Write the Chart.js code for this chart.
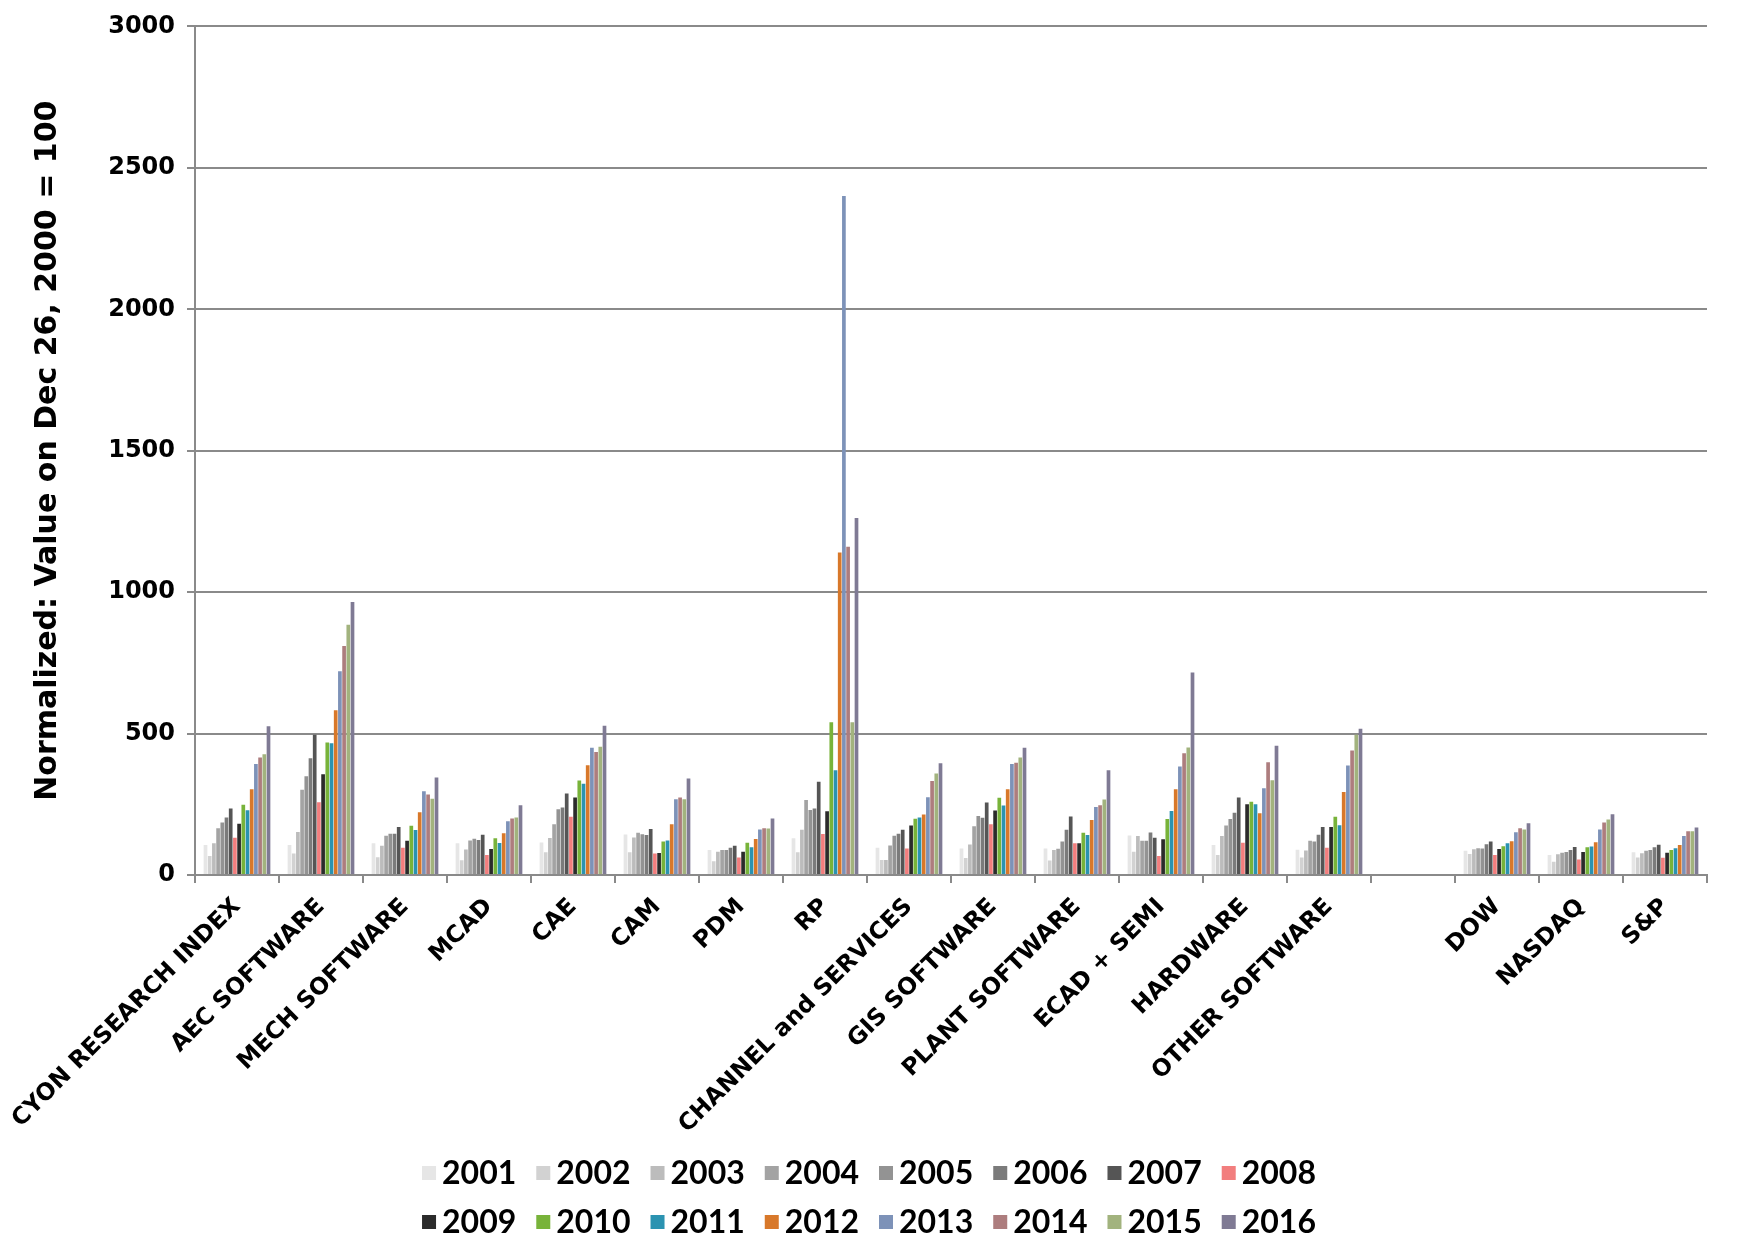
<!DOCTYPE html>
<html>
<head>
<meta charset="utf-8">
<script src="https://cdn.jsdelivr.net/npm/chart.js@4.4.1/dist/chart.umd.min.js"></script>
<style>
  html, body { margin: 0; background: #fff; }
</style>
</head>
<body>
<canvas id="chart" width="1738" height="1259"></canvas>
<script>
// categories on the x axis (one empty slot between OTHER SOFTWARE and DOW)
var categories = ['CYON RESEARCH INDEX', 'AEC SOFTWARE', 'MECH SOFTWARE', 'MCAD', 'CAE', 'CAM', 'PDM', 'RP',
  'CHANNEL and SERVICES', 'GIS SOFTWARE', 'PLANT SOFTWARE', 'ECAD + SEMI', 'HARDWARE', 'OTHER SOFTWARE',
  '', 'DOW', 'NASDAQ', 'S&P'];
var years = ['2001', '2002', '2003', '2004', '2005', '2006', '2007', '2008',
  '2009', '2010', '2011', '2012', '2013', '2014', '2015', '2016'];
var yearColors = ['#e6e6e6', '#d2d2d2', '#bcbcbc', '#a3a3a3', '#939393', '#7b7b7b', '#555555', '#f27e7e',
  '#2b2b2b', '#78b33a', '#2b93b1', '#d8782a', '#7d92b8', '#ad7d7e', '#a2b37e', '#7f7a94'];

// values per category, 2001 .. 2016
var cyon     = [106, 67, 112, 165, 186, 203, 235, 132, 181, 248, 229, 303, 392, 415, 427, 526];
var aec      = [106, 76, 152, 301, 349, 413, 496, 257, 356, 468, 466, 582, 720, 810, 885, 965];
var mech     = [112, 63, 103, 139, 146, 146, 170, 96, 121, 174, 159, 222, 296, 285, 270, 345];
var mcad     = [112, 52, 90, 122, 128, 124, 142, 71, 92, 130, 113, 148, 190, 200, 203, 247];
var cae      = [115, 80, 131, 179, 232, 239, 288, 206, 274, 334, 323, 388, 450, 435, 453, 528];
var cam      = [143, 80, 133, 149, 144, 141, 163, 76, 78, 118, 122, 179, 268, 274, 268, 341];
var pdm      = [88, 49, 82, 88, 88, 96, 103, 62, 82, 114, 98, 127, 161, 165, 164, 200];
var rp       = [130, 80, 160, 265, 230, 235, 330, 145, 225, 540, 370, 1140, 2400, 1160, 540, 1262];
var channel  = [96, 53, 53, 104, 139, 146, 160, 94, 175, 199, 203, 214, 275, 332, 359, 395];
var gis      = [94, 60, 108, 172, 209, 202, 256, 179, 228, 273, 246, 303, 392, 397, 415, 450];
var plant    = [94, 51, 88, 93, 118, 160, 207, 112, 112, 149, 141, 194, 240, 247, 267, 370];
var ecad     = [140, 82, 138, 121, 121, 150, 132, 67, 126, 198, 226, 303, 384, 430, 451, 716];
var hardware = [106, 71, 138, 175, 198, 220, 274, 114, 250, 259, 250, 218, 307, 399, 335, 457];
var other    = [89, 62, 87, 121, 118, 142, 170, 96, 170, 206, 176, 293, 387, 440, 496, 517];
var dow      = [86, 74, 91, 95, 94, 109, 118, 71, 92, 102, 112, 119, 151, 165, 161, 183];
var nasdaq   = [71, 47, 73, 79, 81, 88, 99, 55, 81, 98, 101, 116, 161, 186, 196, 215];
var sp       = [80, 62, 77, 86, 88, 98, 107, 61, 79, 88, 95, 106, 138, 155, 155, 168];

var groups = [cyon, aec, mech, mcad, cae, cam, pdm, rp, channel, gis, plant, ecad, hardware, other,
  null, dow, nasdaq, sp];

var datasets = years.map(function (year, i) {
  return {
    label: year,
    data: groups.map(function (g) { return g ? g[i] : null; }),
    backgroundColor: yearColors[i],
    borderWidth: 0,
    categoryPercentage: 0.8,
    barPercentage: 0.88,
  };
});

// legend in two rows of eight, centred under the chart
var rowLegend = {
  id: 'rowLegend',
  afterDraw: function (chart) {
    var ctx = chart.ctx;
    var rowY = [1173, 1222];
    ctx.save();
    ctx.font = 'bold 32px Lato';
    ctx.textBaseline = 'middle';
    [[0, 8], [8, 16]].forEach(function (r, row) {
      var items = chart.data.datasets.slice(r[0], r[1]);
      var widths = items.map(function (d) { return 14 + 6 + ctx.measureText(d.label).width; });
      var gap = 20;
      var total = widths.reduce(function (s, w) { return s + w; }, 0) + gap * (items.length - 1);
      var x = (chart.width - total) / 2;
      items.forEach(function (d, i) {
        ctx.fillStyle = d.backgroundColor;
        ctx.fillRect(x, rowY[row] - 7, 14, 14);
        ctx.fillStyle = '#000';
        ctx.fillText(d.label, x + 20, rowY[row] + 1);
        x += widths[i] + gap;
      });
    });
    ctx.restore();
  }
};

var chart = new Chart(document.getElementById('chart'), {
  type: 'bar',
  data: { labels: categories, datasets: datasets },
  plugins: [rowLegend],
  options: {
    responsive: false,
    animation: false,
    layout: { padding: { top: 24, right: 31, bottom: 124, left: 0 } },
    plugins: {
      legend: { display: false },
      tooltip: { enabled: false },
    },
    scales: {
      x: {
        grid: { drawOnChartArea: false, drawTicks: true, tickLength: 8, color: '#8a8a8a', lineWidth: 2 },
        border: { color: '#8a8a8a', width: 2 },
        ticks: {
          autoSkip: false,
          maxRotation: 45,
          minRotation: 45,
          padding: 10,
          color: '#000',
          font: { family: 'DejaVu Sans', weight: 'bold', size: 23.5 },
        },
        afterFit: function (s) { s.height = 260; },
      },
      y: {
        min: 0,
        max: 3000,
        ticks: {
          stepSize: 500,
          padding: 12,
          color: '#000',
          font: { family: 'DejaVu Sans', weight: 'bold', size: 24 },
          callback: function (v) { return String(v); },
        },
        grid: { color: '#8a8a8a', lineWidth: 2, tickLength: 8 },
        border: { color: '#8a8a8a', width: 2 },
        title: {
          display: true,
          text: 'Normalized: Value on Dec 26, 2000 = 100',
          color: '#000',
          font: { family: 'DejaVu Sans', weight: 'bold', size: 30 },
          padding: { top: 30, bottom: 0 },
        },
        afterFit: function (s) { s.width = 195; },
      },
    },
  },
});
</script>
</body>
</html>
